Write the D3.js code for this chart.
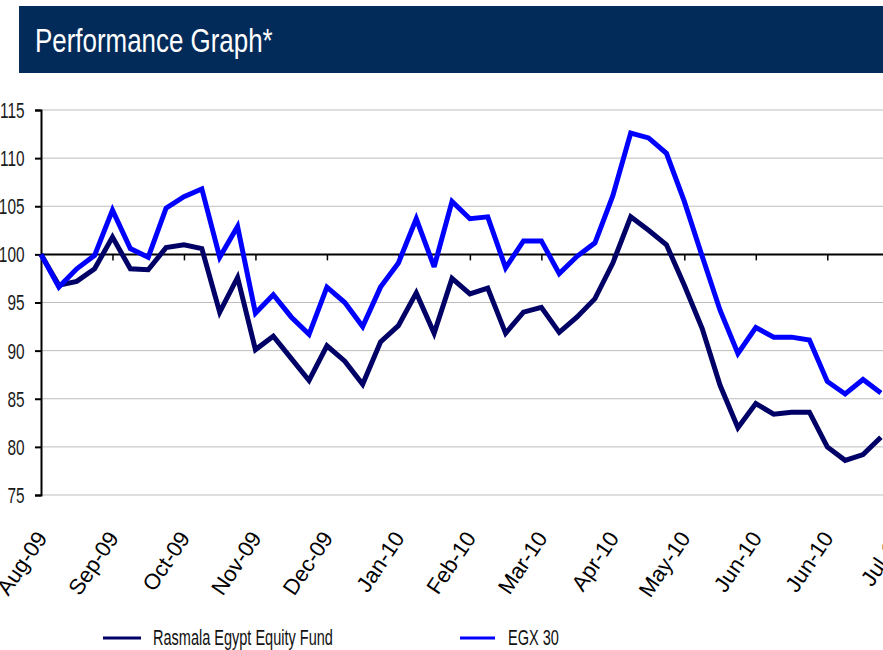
<!DOCTYPE html>
<html>
<head>
<meta charset="utf-8">
<script src="https://cdnjs.cloudflare.com/ajax/libs/d3/7.8.5/d3.min.js"></script>
<style>
  body { margin: 0; background: #fff; }
  svg { display: block; }
</style>
</head>
<body>
<div id="my_dataviz"></div>
<script>
// Weekly values, Aug-09 = 100
var fundValues = [100, 96.8, 97.2, 98.5, 101.8, 98.5, 98.4, 100.7, 101.0, 100.6, 94.0, 97.6,
    90.1, 91.5, 89.2, 86.9, 90.5, 88.9, 86.5, 90.9, 92.6, 96.0, 91.8, 97.5,
    95.9, 96.5, 91.8, 94.0, 94.5, 91.9, 93.5, 95.4, 99.1, 103.9, 102.5, 101.0,
    96.8, 92.3, 86.4, 82.0, 84.5, 83.4, 83.6, 83.6, 80.0, 78.6, 79.2, 81.0];
var egxValues = [100, 96.6, 98.5, 99.9, 104.6, 100.6, 99.7, 104.8, 106.0, 106.8, 99.7, 102.9,
    93.9, 95.8, 93.5, 91.7, 96.6, 95.0, 92.5, 96.6, 99.1, 103.7, 98.7, 105.5,
    103.7, 103.9, 98.6, 101.4, 101.4, 98.0, 99.8, 101.2, 106.1, 112.6, 112.1, 110.5,
    105.5, 99.8, 94.2, 89.7, 92.4, 91.4, 91.4, 91.1, 86.8, 85.5, 87.0, 85.6];
// Category labels, one every 4 weeks
var monthLabels = ["Aug-09", "Sep-09", "Oct-09", "Nov-09", "Dec-09", "Jan-10", "Feb-10",
    "Mar-10", "Apr-10", "May-10", "Jun-10", "Jun-10", "Jul-10"];
var yTicks = [75, 80, 85, 90, 95, 100, 105, 110, 115];
var seriesNames = ["Rasmala Egypt Equity Fund", "EGX 30"];

var W = 883, H = 650;
var font = "'Liberation Sans', Arial, sans-serif";

var svg = d3.select("#my_dataviz")
    .append("svg")
    .attr("width", W)
    .attr("height", H);

// Title bar
svg.append("rect")
    .attr("x", 19).attr("y", 6)
    .attr("width", W - 19).attr("height", 67)
    .attr("fill", "#022b5a");
svg.append("text")
    .attr("transform", "translate(35,52) scale(0.786,1)")
    .attr("fill", "#fff")
    .style("font-family", font)
    .style("font-size", "33px")
    .text("Performance Graph*");

// Scales
var x = d3.scaleLinear()
    .domain([0, 48])
    .range([41, 41 + 48 * 17.87]);
var y = d3.scaleLinear()
    .domain([75, 115])
    .range([495, 110]);

// Gridlines
svg.append("g")
    .selectAll("line")
    .data(yTicks.filter(function(d) { return d !== 100; }))
    .enter()
    .append("line")
    .attr("x1", x(0)).attr("x2", W)
    .attr("y1", function(d) { return y(d); })
    .attr("y2", function(d) { return y(d); })
    .attr("stroke", "#bdbdbd")
    .attr("stroke-width", 1);

// Y axis (labels drawn separately so they can be condensed)
var yAxis = svg.append("g")
    .attr("transform", "translate(" + x(0) + ",0)")
    .call(d3.axisLeft(y).tickValues(yTicks).tickSize(6).tickFormat(""));
yAxis.select(".domain").attr("stroke", "#000").attr("stroke-width", 2);
yAxis.selectAll(".tick line").attr("stroke", "#000").attr("stroke-width", 2);

svg.append("g")
    .selectAll("text")
    .data(yTicks)
    .enter()
    .append("text")
    .attr("transform", function(d) { return "translate(24.5," + y(d) + ") scale(0.7,1)"; })
    .attr("dy", "0.36em")
    .attr("text-anchor", "end")
    .style("font-family", font)
    .style("font-size", "22px")
    .attr("fill", "#1a1a1a")
    .text(function(d) { return d; });

// Category axis crossing at 100
var tickIdx = monthLabels.map(function(d, i) { return i * 4; });
var xAxis = svg.append("g")
    .attr("transform", "translate(0," + y(100) + ")")
    .call(d3.axisBottom(x).tickValues(tickIdx.slice(1)).tickSize(6).tickFormat(""));
xAxis.select(".domain").attr("stroke", "#000").attr("stroke-width", 2)
    .attr("d", "M" + x(0) + ",0H" + W);
xAxis.selectAll(".tick line").attr("stroke", "#000").attr("stroke-width", 1.5);

// Category labels below the plot
svg.append("g")
    .selectAll("text")
    .data(monthLabels)
    .enter()
    .append("text")
    .attr("transform", function(d, i) {
        return "translate(" + (x(i * 4) + 7) + ",538) rotate(-56)";
    })
    .attr("text-anchor", "end")
    .style("font-family", font)
    .style("font-size", "22px")
    .attr("fill", "#000")
    .text(function(d) { return d; });

// Lines
var line = d3.line()
    .x(function(d, i) { return x(i); })
    .y(function(d) { return y(d); });

var colors = ["#000066", "#0000ff"];
[fundValues, egxValues].forEach(function(vals, k) {
    svg.append("path")
        .datum(vals)
        .attr("fill", "none")
        .attr("stroke", colors[k])
        .attr("stroke-width", 5)
        .attr("stroke-linejoin", "miter")
        .attr("stroke-miterlimit", 3)
        .attr("d", line);
});

// Legend
var legendX = [103, 460];
seriesNames.forEach(function(name, k) {
    svg.append("line")
        .attr("x1", legendX[k]).attr("x2", legendX[k] + (k === 0 ? 38 : 35))
        .attr("y1", 638).attr("y2", 638)
        .attr("stroke", colors[k])
        .attr("stroke-width", 3);
    svg.append("text")
        .attr("transform", "translate(" + (legendX[k] + (k === 0 ? 50 : 48)) + ",645) scale(0.66,1)")
        .style("font-family", font)
        .style("font-size", "22px")
        .attr("fill", "#111")
        .text(name);
});
</script>
</body>
</html>
